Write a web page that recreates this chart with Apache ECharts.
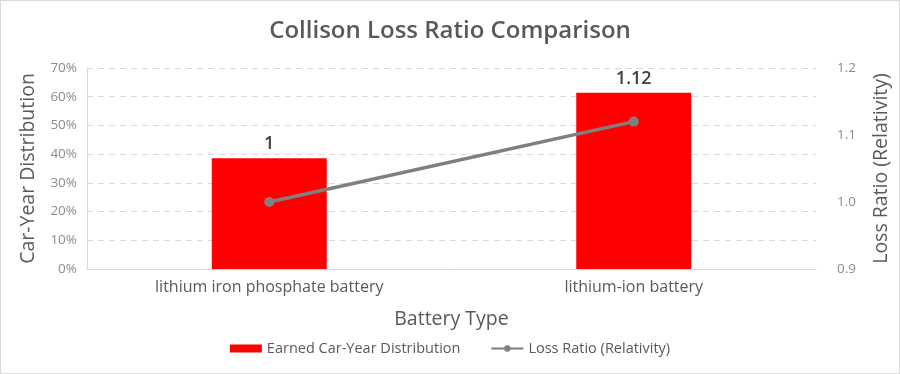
<!DOCTYPE html>
<html><head><meta charset="utf-8">
<script src="https://cdn.jsdelivr.net/npm/echarts@6/dist/echarts.min.js"></script>
<style>html,body{margin:0;padding:0;background:#fff}#c{width:898px;height:372px;border:1px solid #d9d9d9}</style>
</head><body><div id="c"></div>
<script>
const categories = ['lithium iron phosphate battery', 'lithium-ion battery'];
const carYearShare = [38.6, 61.4];
const lossRatio = [1, 1.12];
const leftTicks = [0, 70, 10];
const rightTicks = [0.9, 1.2, 0.1];

const FONT = '"Open Sans", "Noto Sans", sans-serif';
const chart = echarts.init(document.getElementById('c'));
chart.setOption({
  animation: false,
  textStyle: { fontFamily: FONT },
  title: { text: 'Collison Loss Ratio Comparison', left: 'center', top: 13,
    textStyle: { fontSize: 24, fontWeight: 600, color: '#595959', fontFamily: FONT } },
  legend: { bottom: 12, left: 'center', itemGap: 30, itemWidth: 32, itemHeight: 8,
    textStyle: { fontSize: 14.5, color: '#595959' },
    data: [{ name: 'Earned Car-Year Distribution', icon: 'rect' }, { name: 'Loss Ratio (Relativity)' }] },
  grid: { left: 86, right: 82, top: 67, bottom: 104 },
  xAxis: { type: 'category', data: categories, name: 'Battery Type', nameLocation: 'middle', nameGap: 40,
    nameTextStyle: { fontSize: 19.5, color: '#595959' },
    axisLine: { lineStyle: { color: '#d9d9d9' } }, axisTick: { show: false },
    axisLabel: { fontSize: 16, color: '#595959', margin: 10 } },
  yAxis: [
    { type: 'value', min: leftTicks[0], max: leftTicks[1], interval: leftTicks[2],
      name: 'Car-Year Distribution', nameLocation: 'middle', nameGap: 49, nameTextStyle: { fontSize: 19.5, color: '#595959' },
      axisLine: { show: true, lineStyle: { color: '#d9d9d9' } },
      axisLabel: { formatter: '{value}%', fontSize: 13.5, color: '#8c8c8c', margin: 10 },
      splitLine: { lineStyle: { color: '#d9d9d9', type: [6, 5] } } },
    { type: 'value', min: rightTicks[0], max: rightTicks[1], interval: rightTicks[2],
      name: 'Loss Ratio (Relativity)', nameLocation: 'middle', nameGap: 55, nameRotate: 90,
      nameTextStyle: { fontSize: 19.5, color: '#595959' },
      axisLine: { show: false },
      axisLabel: { formatter: v => v.toFixed(1), fontSize: 13.5, color: '#8c8c8c', margin: 21 },
      splitLine: { show: false } }
  ],
  series: [
    { name: 'Earned Car-Year Distribution', type: 'bar', data: carYearShare, barWidth: 115,
      itemStyle: { color: '#ff0000' },
      label: { show: true, position: 'top', distance: 5, fontSize: 18, fontWeight: 600, color: '#404040',
        formatter: p => String(lossRatio[p.dataIndex]) } },
    { name: 'Loss Ratio (Relativity)', type: 'line', yAxisIndex: 1, data: lossRatio,
      symbol: 'circle', symbolSize: 10, itemStyle: { color: '#7f7f7f' },
      lineStyle: { color: '#7f7f7f', width: 3.5 } }
  ]
});
</script></body></html>
